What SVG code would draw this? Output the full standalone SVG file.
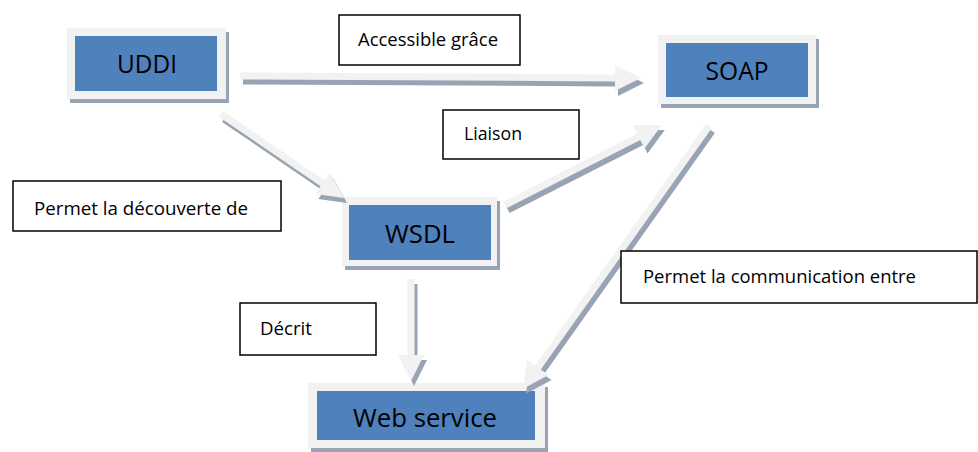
<svg xmlns="http://www.w3.org/2000/svg" width="978" height="452" viewBox="0 0 978 452">
<style>
  .frame{fill:#f2f2f2}
  .fshadow{fill:#98a4b4}
  .core{fill:#4f81bd}
  .nlabel{font-family:"Open Sans","Liberation Sans",sans-serif;font-size:25px;fill:#000;text-anchor:middle}
  .arrow{fill:#f2f2f2}
  .ashadow{fill:#98a4b4}
  .box{fill:#fff;stroke:#000;stroke-width:1.5}
  .blabel{font-family:"Open Sans","Liberation Sans",sans-serif;font-size:18px;fill:#000}
</style>
<rect width="978" height="452" fill="#fff"/>

<g id="node-uddi">
  <rect class="fshadow" x="70" y="32" width="159" height="71"/>
  <rect class="frame" x="67" y="28" width="159" height="71"/>
  <rect class="core" x="75" y="36" width="142" height="55"/>
  <text class="nlabel" x="147" y="73" textLength="60" lengthAdjust="spacingAndGlyphs">UDDI</text>
</g>
<g id="node-soap">
  <rect class="fshadow" x="661" y="39" width="158" height="69"/>
  <rect class="frame" x="658" y="35" width="158" height="69"/>
  <rect class="core" x="666" y="43" width="142" height="54"/>
  <text class="nlabel" x="737" y="80" textLength="63" lengthAdjust="spacingAndGlyphs">SOAP</text>
</g>
<g id="node-wsdl">
  <rect class="fshadow" x="345" y="201" width="155" height="69"/>
  <rect class="frame" x="342" y="197" width="155" height="69"/>
  <rect class="core" x="349" y="205" width="142" height="55"/>
  <text class="nlabel" x="420" y="243" textLength="70" lengthAdjust="spacingAndGlyphs">WSDL</text>
</g>
<g id="node-webservice">
  <rect class="fshadow" x="311" y="387" width="237" height="65"/>
  <rect class="frame" x="308" y="383" width="237" height="65"/>
  <rect class="core" x="317" y="391" width="218" height="49"/>
  <text class="nlabel" x="425" y="427" textLength="144" lengthAdjust="spacingAndGlyphs">Web service</text>
</g>

<g id="connectors">
  <!-- UDDI -> SOAP -->
  <g transform="translate(243,81) rotate(0.29)"><path class="ashadow" d="M0,-3.5 H375 V-13 L401,0 L375,13 V3.5 H0 Z"/></g>
  <g transform="translate(240,76) rotate(0.29)"><path class="arrow" d="M0,-3.5 H375 V-13 L401,0 L375,13 V3.5 H0 Z"/></g>
  <!-- UDDI -> WSDL -->
  <g transform="translate(224,119) rotate(34.3)"><path class="ashadow" d="M0,-3.5 H123 V-13 L149,0 L123,13 V3.5 H0 Z"/></g>
  <g transform="translate(221,114) rotate(34.3)"><path class="arrow" d="M0,-3.5 H123 V-13 L149,0 L123,13 V3.5 H0 Z"/></g>
  <!-- WSDL -> SOAP -->
  <g transform="translate(508,210) rotate(-27)"><path class="ashadow" d="M0,-3.5 H150 V-13 L176,0 L150,13 V3.5 H0 Z"/></g>
  <g transform="translate(505,205) rotate(-27)"><path class="arrow" d="M0,-3.5 H150 V-13 L176,0 L150,13 V3.5 H0 Z"/></g>
  <!-- SOAP -> Web service -->
  <g transform="translate(712,131) rotate(125.3)"><path class="ashadow" d="M0,-3.5 H296 V-13 L322,0 L296,13 V3.5 H0 Z"/></g>
  <g transform="translate(709,126) rotate(125.3)"><path class="arrow" d="M0,-3.5 H296 V-13 L322,0 L296,13 V3.5 H0 Z"/></g>
  <!-- WSDL -> Web service -->
  <g transform="translate(414,284) rotate(90)"><path class="ashadow" d="M0,-3.5 H76 V-13 L102,0 L76,13 V3.5 H0 Z"/></g>
  <g transform="translate(411,279) rotate(90)"><path class="arrow" d="M0,-3.5 H76 V-13 L102,0 L76,13 V3.5 H0 Z"/></g>
</g>

<g id="label-accessible">
  <rect class="box" x="339" y="15" width="181" height="50"/>
  <text class="blabel" x="358" y="46" textLength="140" lengthAdjust="spacingAndGlyphs">Accessible grâce</text>
</g>
<g id="label-liaison">
  <rect class="box" x="443" y="110" width="136" height="49"/>
  <text class="blabel" x="464" y="140" textLength="58" lengthAdjust="spacingAndGlyphs">Liaison</text>
</g>
<g id="label-decouverte">
  <rect class="box" x="13" y="181" width="268" height="50"/>
  <text class="blabel" x="34" y="215" textLength="214" lengthAdjust="spacingAndGlyphs">Permet la découverte de</text>
</g>
<g id="label-decrit">
  <rect class="box" x="240" y="303" width="136" height="52"/>
  <text class="blabel" x="260" y="335" textLength="52" lengthAdjust="spacingAndGlyphs">Décrit</text>
</g>
<g id="label-communication">
  <rect class="box" x="621" y="251" width="356" height="52"/>
  <text class="blabel" x="643" y="283" textLength="273" lengthAdjust="spacingAndGlyphs">Permet la communication entre</text>
</g>
</svg>
